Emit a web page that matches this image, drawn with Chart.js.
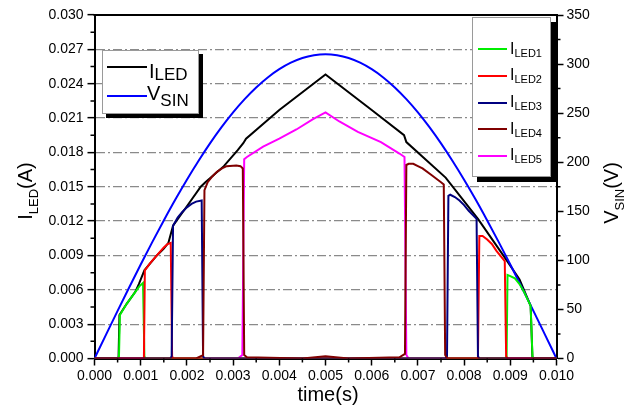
<!DOCTYPE html>
<html>
<head>
<meta charset="utf-8">
<script src="https://cdn.jsdelivr.net/npm/chart.js@4.4.1/dist/chart.umd.min.js"></script>
<style>
  body { margin: 0; background: #fff; font-family: "Liberation Sans", Arial, sans-serif; }
  #wrap { position: relative; width: 637px; height: 411px; overflow: hidden; }
  #chart { position: absolute; left: 0; top: 0; }
  .txt { position: absolute; white-space: nowrap; color: #000; }
  .sub { position: relative; }
  .box { position: absolute; box-sizing: border-box; background: #fff; border: 1px solid #9a9a9a; }
  .key { position: absolute; height: 2px; }
</style>
</head>
<body>
<div id="wrap">
  <canvas id="chart" width="637" height="411"></canvas>

  <!-- legend ILED / VSIN -->
  <div class="box" style="left:102px;top:50px;width:97px;height:64px;box-shadow:4px 4px 0 #000;"></div>
  <div class="key" style="left:107px;top:66px;width:40px;background:#000;"></div>
  <div class="txt" style="left:149px;top:61px;font-size:20px;line-height:20px;">I<span class="sub" style="font-size:17px;top:2px;">LED</span></div>
  <div class="key" style="left:107px;top:95px;width:40px;background:#0000ff;"></div>
  <div class="txt" style="left:147px;top:83px;font-size:20px;line-height:20px;">V<span class="sub" style="font-size:17px;top:6px;">SIN</span></div>

  <!-- legend ILED1..5 -->
  <div class="box" style="left:472px;top:17px;width:79px;height:160px;box-shadow:5px 5px 0 #000;"></div>
  <div id="legend2"></div>

  <!-- axis titles -->
  <div class="txt" style="left:-15px;top:179px;width:80px;height:24px;line-height:24px;font-size:20px;text-align:center;transform:rotate(-90deg);">I<span class="sub" style="font-size:13px;top:6px;">LED</span>(A)</div>
  <div class="txt" style="left:571px;top:181px;width:80px;height:24px;line-height:24px;font-size:20px;text-align:center;transform:rotate(-90deg);">V<span class="sub" style="font-size:13px;top:6px;">SIN</span>(V)</div>
  <div class="txt" style="left:268px;top:382px;width:120px;line-height:24px;font-size:20px;text-align:center;">time(s)</div>
</div>

<script>
// supply voltage, sampled every 0.25 ms
const vsinT = [0, 0.00025, 0.0005, 0.00075, 0.001, 0.00125, 0.0015, 0.00175, 0.002, 0.00225,
  0.0025, 0.00275, 0.003, 0.00325, 0.0035, 0.00375, 0.004, 0.00425, 0.0045, 0.00475,
  0.005, 0.00525, 0.0055, 0.00575, 0.006, 0.00625, 0.0065, 0.00675, 0.007, 0.00725,
  0.0075, 0.00775, 0.008, 0.00825, 0.0085, 0.00875, 0.009, 0.00925, 0.0095, 0.00975, 0.01];
const vsinV = [0, 24.3, 48.5, 72.4, 95.8, 118.6, 140.7, 162.0, 182.2, 201.3,
  219.2, 235.7, 250.8, 264.3, 276.2, 286.4, 294.8, 301.4, 306.2, 309.0,
  310, 309.0, 306.2, 301.4, 294.8, 286.4, 276.2, 264.3, 250.8, 235.7,
  219.2, 201.3, 182.2, 162.0, 140.7, 118.6, 95.8, 72.4, 48.5, 24.3, 0];

// total LED current
const iledT = [0, 0.00052, 0.00054, 0.0007, 0.00088, 0.00096, 0.00108, 0.00135, 0.0015, 0.0016,
  0.0017, 0.002, 0.0023, 0.0024, 0.0028, 0.0031, 0.00322, 0.00328, 0.004, 0.005,
  0.006, 0.0067, 0.00675, 0.0076, 0.0083, 0.0089, 0.0092, 0.00944, 0.00948, 0.01];
const iledI = [0, 0, 0.0038, 0.0048, 0.0058, 0.0065, 0.0077, 0.0090, 0.0096, 0.0101,
  0.0116, 0.0133, 0.0150, 0.0154, 0.0168, 0.0182, 0.0188, 0.0192, 0.0217, 0.0248,
  0.0217, 0.0195, 0.0189, 0.0158, 0.0122, 0.0087, 0.0069, 0.0046, 0, 0];

// the five LED strings
const led1T = [0, 0.0005, 0.00053, 0.00055, 0.0007, 0.00088, 0.00097, 0.00105, 0.00108, 0.0011,
  0.0089, 0.00892, 0.00894, 0.009, 0.0091, 0.0092, 0.0093, 0.00944, 0.00948, 0.0095, 0.01];
const led1I = [0, 0, 0.0002, 0.0038, 0.0048, 0.0058, 0.0063, 0.0066, 0.0002, 0,
  0, 0.0002, 0.0073, 0.0072, 0.0070, 0.0065, 0.0058, 0.0046, 0.0002, 0, 0];

const led2T = [0, 0.00105, 0.00107, 0.00109, 0.0012, 0.00135, 0.0015, 0.00158, 0.00165, 0.00168, 0.0017,
  0.00828, 0.0083, 0.00833, 0.0084, 0.0085, 0.0086, 0.0087, 0.00888, 0.00891, 0.00894, 0.01];
const led2I = [0, 0, 0.0002, 0.0077, 0.0083, 0.0090, 0.0097, 0.0100, 0.0101, 0.0002, 0,
  0, 0.0002, 0.0107, 0.0107, 0.0104, 0.0100, 0.0094, 0.0085, 0.0002, 0, 0];

const led3T = [0, 0.00164, 0.00167, 0.0017, 0.0018, 0.0019, 0.002, 0.0021, 0.0022, 0.00232, 0.00235, 0.00238,
  0.0076, 0.00763, 0.00766, 0.0077, 0.0078, 0.0079, 0.008, 0.0081, 0.00827, 0.0083, 0.00833, 0.01];
const led3I = [0, 0, 0.0002, 0.0116, 0.0123, 0.0128, 0.0132, 0.0135, 0.0137, 0.0138, 0.0002, 0,
  0, 0.0002, 0.0142, 0.0143, 0.0141, 0.0138, 0.0134, 0.0129, 0.0122, 0.0002, 0, 0];

const led4T = [0, 0.0022, 0.00235, 0.00238, 0.00245, 0.00255, 0.00265, 0.00276, 0.00286, 0.00307,
  0.00316, 0.00321, 0.00324, 0.0033, 0.0045, 0.005, 0.0055, 0.0066, 0.00672, 0.00675,
  0.0068, 0.0069, 0.007, 0.0071, 0.0073, 0.0075, 0.00756, 0.00759, 0.00764, 0.01];
const led4I = [0, 0, 0.0003, 0.0147, 0.0154, 0.0159, 0.0163, 0.0166, 0.0168, 0.01685,
  0.0168, 0.0166, 0.0003, 0.0001, 0, 0.0002, 0, 0.0001, 0.0004, 0.0169,
  0.0170, 0.0170, 0.0168, 0.0166, 0.0160, 0.0154, 0.0152, 0.0003, 0, 0];

const led5T = [0, 0.0031, 0.0032, 0.00324, 0.0033, 0.00365, 0.004, 0.00437, 0.00473, 0.005,
  0.0053, 0.0057, 0.0062, 0.0066, 0.00671, 0.00675, 0.0068, 0.01];
const led5I = [0, 0, 0.0003, 0.0174, 0.0176, 0.0185, 0.0192, 0.0200, 0.0209, 0.0215,
  0.0207, 0.0198, 0.0189, 0.0179, 0.0176, 0.0003, 0, 0];

const xTicks = { min: 0, max: 0.01, step: 0.001 };
const yTicks = { min: 0, max: 0.03, step: 0.003 };
const y2Ticks = { min: 0, max: 350, step: 50 };

const legendNames = ["LED1", "LED2", "LED3", "LED4", "LED5"];
const legendColors = ["#00ee00", "#ff0000", "#000080", "#800000", "#ff00ff"];

function pts(ts, vs) {
    return ts.map((t, i) => ({ x: t, y: vs[i] }));
}

// second legend box
const legend2 = document.getElementById("legend2");
legendNames.forEach((name, i) => {
    const y = 49.3 + i * 26.7;
    const line = document.createElement("div");
    line.className = "key";
    line.style.cssText = `left:478px;top:${y - 1}px;width:29px;background:${legendColors[i]};`;
    const label = document.createElement("div");
    label.className = "txt";
    label.style.cssText = `left:510px;top:${y - 8.8}px;font-size:16px;line-height:16px;`;
    label.innerHTML = `I<span class="sub" style="font-size:11px;top:3px;">${name}</span>`;
    legend2.appendChild(line);
    legend2.appendChild(label);
});

// frame top + minor ticks
const framePlugin = {
    id: "framePlugin",
    afterDraw(chart) {
        const { ctx, chartArea: a, scales } = chart;
        ctx.save();
        ctx.strokeStyle = "#000";
        ctx.lineWidth = 2;
        ctx.beginPath();
        ctx.moveTo(a.left - 1, a.top);
        ctx.lineTo(a.right + 1, a.top);
        ctx.stroke();

        ctx.lineWidth = 1.5;
        ctx.beginPath();
        for (let k = 0; k < 10; k++) {
            const x = scales.x.getPixelForValue(xTicks.step * (k + 0.5));
            ctx.moveTo(x, a.bottom);
            ctx.lineTo(x, a.bottom + 4);
            const y = scales.y.getPixelForValue(yTicks.step * (k + 0.5));
            ctx.moveTo(a.left, y);
            ctx.lineTo(a.left - 4, y);
        }
        for (let k = 0; k < 7; k++) {
            const y = scales.y2.getPixelForValue(y2Ticks.step * (k + 0.5));
            ctx.moveTo(a.right, y);
            ctx.lineTo(a.right + 4, y);
        }
        ctx.stroke();
        ctx.restore();
    }
};

const tickFont = { family: "'Liberation Sans', Arial, sans-serif", size: 14 };

function lineSet(label, data, color, smooth) {
    return {
        label: label,
        data: data,
        borderColor: color,
        borderWidth: 2,
        pointRadius: 0,
        fill: false,
        tension: 0,
        cubicInterpolationMode: smooth ? "monotone" : "default",
        yAxisID: "y"
    };
}

const vsinSet = lineSet("VSIN", pts(vsinT, vsinV), "#0000ff", true);
vsinSet.yAxisID = "y2";

new Chart(document.getElementById("chart"), {
    type: "line",
    data: {
        datasets: [
            lineSet("ILED4", pts(led4T, led4I), "#800000", false),
            lineSet("ILED3", pts(led3T, led3I), "#000080", false),
            lineSet("ILED2", pts(led2T, led2I), "#ff0000", false),
            lineSet("ILED1", pts(led1T, led1I), "#00ee00", false),
            lineSet("ILED5", pts(led5T, led5I), "#ff00ff", false),
            vsinSet,
            lineSet("ILED", pts(iledT, iledI), "#000000", false)
        ]
    },
    options: {
        responsive: false,
        animation: false,
        events: [],
        layout: { padding: { top: 15, left: 0, right: 0, bottom: 0 } },
        plugins: { legend: { display: false }, tooltip: { enabled: false } },
        scales: {
            x: {
                type: "linear",
                min: xTicks.min, max: xTicks.max,
                afterFit: s => { s.height = 52.5; },
                ticks: {
                    stepSize: xTicks.step, autoSkip: false, maxRotation: 0,
                    padding: 2, color: "#000", font: tickFont,
                    callback: v => v.toFixed(3)
                },
                grid: { drawOnChartArea: false, drawTicks: true, tickLength: 7, tickColor: "#000", tickWidth: 1.5 },
                border: { color: "#000", width: 2 }
            },
            y: {
                position: "left",
                min: yTicks.min, max: yTicks.max,
                afterFit: s => { s.width = 94.5; },
                ticks: {
                    stepSize: yTicks.step, autoSkip: false,
                    padding: 4, color: "#000", font: tickFont,
                    callback: v => v.toFixed(3)
                },
                grid: {
                    color: c => (c.index === 0 || c.index === 10) ? "rgba(0,0,0,0)" : "#8a8a8a",
                    lineWidth: 1.3,
                    drawTicks: true, tickLength: 7, tickColor: "#000", tickWidth: 1.5
                },
                border: { color: "#000", width: 2, dash: [9, 3, 2, 3] }
            },
            y2: {
                position: "right",
                min: y2Ticks.min, max: y2Ticks.max,
                afterFit: s => { s.width = 80.5; },
                ticks: {
                    stepSize: y2Ticks.step, autoSkip: false,
                    padding: 3, color: "#000", font: tickFont
                },
                grid: { drawOnChartArea: false, drawTicks: true, tickLength: 7, tickColor: "#000", tickWidth: 1.5 },
                border: { color: "#000", width: 2 }
            }
        }
    },
    plugins: [framePlugin]
});
</script>
</body>
</html>
